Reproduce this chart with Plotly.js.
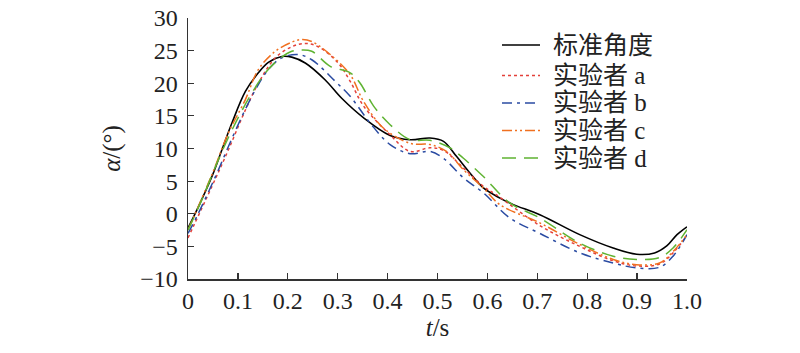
<!DOCTYPE html>
<html>
<head>
<meta charset="utf-8">
<script src="https://cdn.plot.ly/plotly-3.0.1.min.js"></script>
<style>html,body{margin:0;padding:0;background:#fff;}#chart{width:800px;height:353px;}</style>
</head>
<body>
<div id="chart"></div>
<script>
// ---- data ----
const seriesNames = ["标准角度", "实验者 a", "实验者 b", "实验者 c", "实验者 d"];

const tStd = [0, 0.021, 0.048, 0.068, 0.088, 0.115, 0.141, 0.161, 0.188, 0.208, 0.235, 0.275, 0.308, 0.352, 0.405, 0.445, 0.485, 0.512, 0.538, 0.565, 0.592, 0.625, 0.652, 0.705, 0.785, 0.852, 0.899, 0.935, 0.96, 0.98, 1.0];
const vStd = [-2.2, 1.1, 5.7, 9.8, 13.9, 18.75, 21.6, 23.2, 24.1, 24.0, 23.1, 20.5, 17.7, 14.7, 12.0, 11.35, 11.6, 11.1, 8.8, 6.25, 3.95, 2.4, 1.4, -0.15, -3.2, -5.25, -6.2, -6.0, -4.9, -3.2, -2.0];

const tA = [0, 0.048, 0.081, 0.115, 0.141, 0.175, 0.208, 0.235, 0.261, 0.301, 0.325, 0.352, 0.405, 0.445, 0.485, 0.512, 0.552, 0.592, 0.618, 0.705, 0.785, 0.852, 0.899, 0.945, 0.972, 1.0];
const vA = [-3.7, 4.2, 9.8, 15.9, 20.0, 23.9, 25.6, 26.1, 25.6, 23.1, 20.3, 16.5, 12.1, 9.55, 10.1, 9.7, 7.0, 4.2, 2.9, -1.8, -5.0, -7.2, -8.0, -7.7, -6.0, -3.3];

const tB = [0, 0.021, 0.055, 0.081, 0.108, 0.135, 0.161, 0.188, 0.221, 0.248, 0.295, 0.325, 0.365, 0.405, 0.445, 0.485, 0.512, 0.552, 0.592, 0.645, 0.705, 0.785, 0.852, 0.899, 0.945, 0.972, 1.0];
const vB = [-3.0, 0.1, 5.7, 10.3, 14.9, 19.0, 22.1, 23.9, 24.4, 23.6, 20.3, 18.0, 13.9, 10.6, 9.2, 9.55, 8.5, 5.5, 3.2, -0.65, -3.0, -6.0, -7.55, -8.3, -8.2, -6.5, -3.2];

const tC = [0, 0.048, 0.081, 0.115, 0.141, 0.175, 0.208, 0.228, 0.248, 0.285, 0.325, 0.352, 0.392, 0.445, 0.485, 0.518, 0.552, 0.592, 0.625, 0.705, 0.785, 0.852, 0.899, 0.945, 0.972, 1.0];
const vC = [-2.5, 6.0, 12.4, 17.5, 22.1, 24.9, 26.3, 26.7, 26.4, 24.4, 21.3, 17.2, 13.1, 10.8, 10.6, 9.55, 6.75, 3.95, 1.4, -1.4, -4.7, -7.0, -7.8, -7.55, -5.8, -3.2];

const tD = [0, 0.028, 0.061, 0.095, 0.128, 0.155, 0.181, 0.208, 0.228, 0.248, 0.285, 0.325, 0.345, 0.372, 0.405, 0.445, 0.485, 0.525, 0.552, 0.592, 0.645, 0.705, 0.785, 0.852, 0.899, 0.945, 0.972, 1.0];
const vD = [-2.5, 2.2, 8.3, 13.9, 18.5, 21.6, 23.6, 24.9, 25.1, 24.9, 22.6, 21.6, 20.0, 16.5, 13.65, 11.35, 11.25, 10.1, 8.5, 5.7, 1.65, -0.65, -4.5, -6.5, -7.0, -6.7, -5.25, -2.45];

const xTickVals = [0, 0.1, 0.2, 0.3, 0.4, 0.5, 0.6, 0.7, 0.8, 0.9, 1.0];
const xTickText = ["0", "0.1", "0.2", "0.3", "0.4", "0.5", "0.6", "0.7", "0.8", "0.9", "1.0"];
const yTickVals = [-10, -5, 0, 5, 10, 15, 20, 25, 30];
const yTickText = ["−10", "−5", "0", "5", "10", "15", "20", "25", "30"];

// ---- styles ----
const serif = '"Liberation Serif", "Times New Roman", "Noto Sans CJK SC", serif';
const styles = [
  {color: '#000000', dash: 'solid', width: 1.6},
  {color: '#e3403a', dash: 'dot', width: 1.5},
  {color: '#2a4ba2', dash: '10px,5px,3px,5px', width: 1.5},
  {color: '#f07020', dash: '10px,3px,2px,3px,2px,3px', width: 1.5},
  {color: '#5fb332', dash: '14px,8px', width: 1.5}
];
const xs = [tStd, tA, tB, tC, tD];
const ys = [vStd, vA, vB, vC, vD];

const traces = seriesNames.map((n, i) => ({
  x: xs[i], y: ys[i], name: n, type: 'scatter', mode: 'lines', showlegend: false,
  line: {color: styles[i].color, dash: styles[i].dash, width: styles[i].width, shape: 'spline', smoothing: 1}
}));

// plot area in pixels
const M = {l: 188, r: 113, t: 18, b: 74};
const W = 800, H = 353;
const pw = W - M.l - M.r, ph = H - M.t - M.b;
const px2x = p => (p - M.l) / pw;
const px2y = p => 1 - (p - M.t) / ph;

// legend (drawn manually for exact spacing)
const legRows = [45, 75.5, 103, 130.5, 158];
const legLineX0 = 502, legLineX1 = 540, legTextX = 551;
const shapes = [], annotations = [];
seriesNames.forEach((n, i) => {
  shapes.push({type: 'line', xref: 'paper', yref: 'paper',
    x0: px2x(legLineX0), x1: px2x(legLineX1), y0: px2y(legRows[i]), y1: px2y(legRows[i]),
    line: {color: styles[i].color, dash: styles[i].dash, width: styles[i].width}});
  annotations.push({xref: 'paper', yref: 'paper', x: px2x(legTextX), y: px2y(legRows[i]),
    xanchor: 'left', yanchor: 'middle', showarrow: false, text: n,
    font: {family: serif, size: 25, color: '#222'}});
});

const layout = {
  width: W, height: H,
  margin: M,
  paper_bgcolor: '#fff', plot_bgcolor: '#fff',
  font: {family: serif, size: 24, color: '#222'},
  xaxis: {
    range: [0, 1.0], tickvals: xTickVals, ticktext: xTickText,
    ticks: 'inside', ticklen: 6, tickwidth: 1.2, tickcolor: '#333',
    showline: true, linecolor: '#333', linewidth: 1.5, showgrid: false, zeroline: false,
    tickfont: {family: serif, size: 24, color: '#222'},
    title: {text: '<i>t</i>/s', font: {family: serif, size: 25, color: '#222'}, standoff: 4}
  },
  yaxis: {
    range: [-10, 30], tickvals: yTickVals, ticktext: yTickText,
    ticks: 'inside', ticklen: 6, tickwidth: 1.2, tickcolor: '#333', ticklabelstandoff: 4,
    showline: true, linecolor: '#333', linewidth: 1.5, showgrid: false, zeroline: false,
    tickfont: {family: serif, size: 24, color: '#222'},
    title: {text: '<i>α</i>/(°)', font: {family: serif, size: 25, color: '#222'}, standoff: 12}
  },
  showlegend: false,
  shapes: shapes,
  annotations: annotations
};

Plotly.newPlot('chart', traces, layout, {staticPlot: true, displayModeBar: false});
</script>
</body>
</html>
